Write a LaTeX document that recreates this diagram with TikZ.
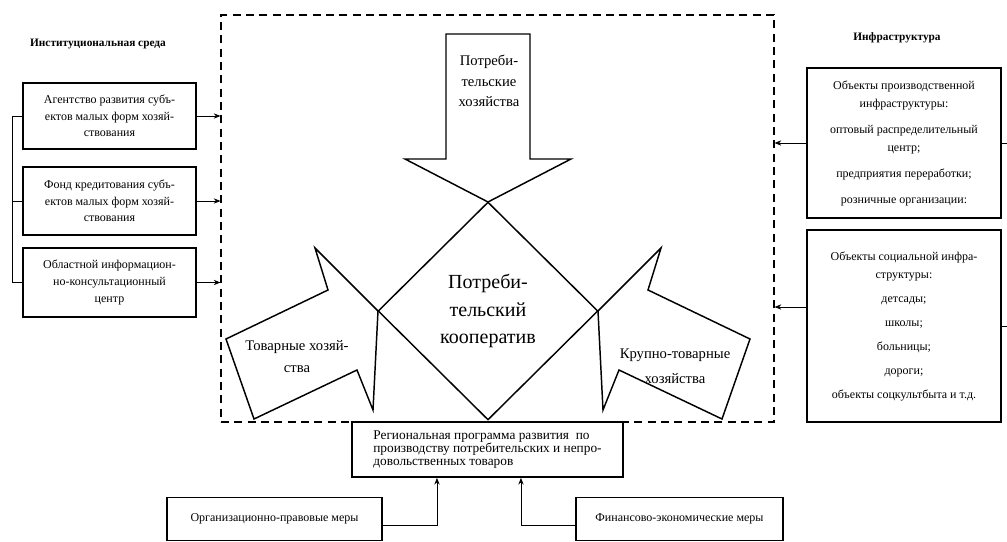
\documentclass[tikz,border=0pt]{standalone}
\usepackage{fontspec}
\setmainfont{Liberation Serif}
\usetikzlibrary{arrows.meta,shapes.geometric}

\tikzset{
  infobox/.style={draw, line width=1.4pt, align=center, inner sep=2pt,
    font=\fontsize{9}{12.4}\selectfont},
  title/.style={font=\bfseries\fontsize{8.5}{10}\selectfont},
  link/.style={line width=0.6pt, -{Stealth[length=5pt,width=4pt]}},
  bracket/.style={line width=0.6pt},
  blockarrow/.style={draw, line width=1.1pt, line join=miter},
}

\begin{document}
\begin{tikzpicture}[x=0.75pt,y=-0.75pt]
  \useasboundingbox (0,0) rectangle (1007,542);

  % dashed frame of the cooperative
  \node[draw, dash pattern=on 6pt off 4pt, line width=0.9pt, inner sep=0pt,
    minimum width=414.75pt, minimum height=305.25pt] (frame) at (497.5,218.5) {};

  % titles
  \node[title] (insttitle) at (98,44) {Институциональная среда};
  \node[title] (infratitle) at (897,38) {Инфраструктура};

  % institutional boxes
  \node[infobox, minimum width=129.75pt, minimum height=49.5pt] (agency) at (109.5,116)
    {Агентство развития субъ-\\ектов малых форм хозяй-\\ствования};
  \node[infobox, minimum width=129.75pt, minimum height=51pt] (fund) at (109.5,201)
    {Фонд кредитования субъ-\\ектов малых форм хозяй-\\ствования};
  \node[infobox, minimum width=129.75pt, minimum height=51.75pt] (center) at (109.5,282.5)
    {Областной информацион-\\но-консультационный\\центр};

  \draw[bracket] (agency.west) -- ++(-10,0) |- (center.west);
  \draw[bracket] (fund.west) -- ++(-10,0);
  \draw[link] (agency.east) -- (agency.east -| frame.west);
  \draw[link] (fund.east) -- (fund.east -| frame.west);
  \draw[link] (center.east) -- (center.east -| frame.west);

  % infrastructure boxes
  \node[infobox, font=\fontsize{9}{13.5}\selectfont, minimum width=145.5pt, minimum height=112.5pt] (prod) at (904,143)
    {Объекты производственной\\инфраструктуры:\\[6pt]оптовый распределительный\\центр;\\[6pt]предприятия переработки;\\[6pt]розничные организации:};
  \node[infobox, font=\fontsize{9}{13.5}\selectfont, minimum width=145.5pt, minimum height=144pt] (soc) at (904,326)
    {Объекты социальной инфра-\\структуры:\\[4.5pt]детсады;\\[4.5pt]школы;\\[4.5pt]больницы;\\[4.5pt]дороги;\\[4.5pt]объекты соцкультбыта и т.д.};

  \draw[bracket] (prod.east) -- ++(12,0) |- (soc.east);
  \draw[link] (prod.west) -- (prod.west -| frame.east);
  \draw[link] ([yshift=14.25pt]soc.west) -- ([yshift=14.25pt]soc.west -| frame.east);

  % block arrows and the cooperative
  \draw[blockarrow] (446,34) -- (530,34) -- (530,159) -- (571,159) -- (488,202)
    -- (405,159) -- (446,159) -- cycle;
  \draw[blockarrow] (226,339) -- (328,290) -- (315,248) -- (378,311) -- (373,410)
    -- (357,370) -- (254,419) -- cycle;
  \draw[blockarrow] (750,339) -- (648,290) -- (661,248) -- (598,311) -- (603,410)
    -- (619,370) -- (722,419) -- cycle;
  \node[diamond, draw, line width=1.1pt, inner sep=0pt, minimum width=165pt, minimum height=163.5pt,
    align=center, font=\fontsize{15}{20.6}\selectfont] (coop) at (488,311)
    {Потреби-\\тельский\\кооператив};

  \node[align=center, font=\fontsize{11}{15.5}\selectfont] (consumer) at (489,81)
    {Потреби-\\тельские\\хозяйства};
  \node[align=center, font=\fontsize{11}{16.5}\selectfont] (commodity) at (297,357)
    {Товарные хозяй-\\ства};
  \node[align=center, font=\fontsize{11}{19}\selectfont] (large) at (675,366)
    {Крупно-товарные\\хозяйства};

  % regional programme and measures
  \node[draw, fill=white, line width=1.4pt, align=left, inner sep=2pt,
    minimum width=203.25pt, minimum height=41.25pt, font=\fontsize{10}{10}\selectfont] (reg) at (487.5,449.5)
    {Региональная программа развития\ \ по\\производству потребительских и непро-\\довольственных товаров};
  \node[infobox, minimum width=161.25pt, minimum height=32.25pt] (org) at (274.5,519)
    {Организационно-правовые меры};
  \node[infobox, minimum width=155.25pt, minimum height=32.25pt] (fin) at (679.5,519)
    {Финансово-экономические меры};

  \draw[link] ([yshift=-5pt]org.east) -| ([xshift=-37.9pt]reg.south);
  \draw[link] ([yshift=-5pt]fin.west) -| ([xshift=25.1pt]reg.south);
\end{tikzpicture}
\end{document}
